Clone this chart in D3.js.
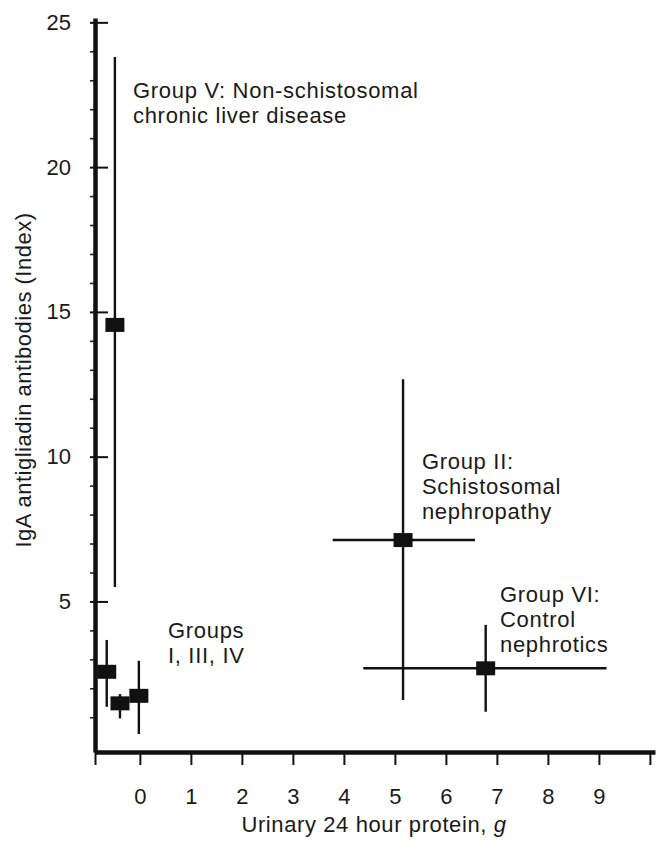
<!DOCTYPE html>
<html>
<head>
<meta charset="utf-8">
<script src="https://cdn.jsdelivr.net/npm/d3@7"></script>
<style>
  html, body { margin: 0; padding: 0; background: #fff; }
  svg text { font-family: "Liberation Sans", Arial, Helvetica, sans-serif; fill: #1a1a1a; }
</style>
</head>
<body>
<div id="chart"></div>
<script>
// Groups (bottom-left cluster labelled together as I, III, IV)
const groups = ['V', 'I', 'III', 'IV', 'II', 'VI'];
const protein = [-0.49, -0.65, -0.39, -0.02, 5.16, 6.78];
const proteinLow = [null, null, null, null, 3.78, 4.38];
const proteinHigh = [null, null, null, null, 6.57, 9.15];
const iga = [14.55, 2.57, 1.48, 1.74, 7.12, 2.69];
const igaLow = [5.5, 1.36, 0.96, 0.42, 1.60, 1.19];
const igaHigh = [23.8, 3.67, 1.80, 2.95, 12.67, 4.19];

// Axis ticks
const xTickLabels = [0, 1, 2, 3, 4, 5, 6, 7, 8, 9];
const xTickExtra = [-0.88, 10];
const yMajorTicks = [5, 10, 15, 20, 25];
const yMinorTicks = d3.range(1, 25).filter(v => v % 5 !== 0);

// Annotations (anchor in data units)
const labelText = [
    ['Group V: Non-schistosomal', 'chronic liver disease'],
    ['Groups', 'I, III, IV'],
    ['Group II:', 'Schistosomal', 'nephropathy'],
    ['Group VI:', 'Control', 'nephrotics']
];
const labelX = [-0.135, 0.55, 5.53, 7.06];
const labelY = [22.39, 3.74, 9.58, 4.99];

const width = 657, height = 841;
const fontSize = 22;

const svg = d3.select('#chart').append('svg')
    .attr('width', width)
    .attr('height', height);

const x = d3.scaleLinear().domain([-0.88, 10.1]).range([95, 655]);
const y = d3.scaleLinear().domain([-0.2, 25.15]).range([752, 18]);

// Y axis: minor ticks (outside)
svg.append('g')
    .attr('transform', `translate(${x.range()[0]},0)`)
    .call(d3.axisLeft(y).tickValues(yMinorTicks).tickSize(5).tickFormat(''))
    .call(g => g.select('.domain').remove())
    .call(g => g.selectAll('.tick line').attr('stroke', '#222').attr('stroke-width', 1.6));

// Y axis: major ticks crossing the axis
svg.append('g')
    .attr('transform', `translate(${x.range()[0] - 5},0)`)
    .call(d3.axisRight(y).tickValues(yMajorTicks).tickSize(18).tickFormat(''))
    .call(g => g.select('.domain').remove())
    .call(g => g.selectAll('.tick line').attr('stroke', '#111').attr('stroke-width', 2));

// Y axis line + labels
svg.append('g')
    .attr('transform', `translate(${x.range()[0]},0)`)
    .call(d3.axisLeft(y).tickValues(yMajorTicks).tickSize(0).tickSizeOuter(0).tickPadding(24))
    .call(g => g.select('.domain').attr('stroke', '#111').attr('stroke-width', 4.5))
    .call(g => g.selectAll('.tick text')
        .attr('font-size', fontSize)
        .attr('font-family', null)
        .attr('fill', '#1a1a1a'));

// X axis
const xAllTicks = [xTickExtra[0], ...xTickLabels, xTickExtra[1]];
svg.append('g')
    .attr('transform', `translate(0,${y.range()[0]})`)
    .call(d3.axisBottom(x)
        .tickValues(xAllTicks)
        .tickSize(13)
        .tickSizeOuter(0)
        .tickPadding(23)
        .tickFormat(d => xTickLabels.includes(d) ? d : ''))
    .call(g => g.select('.domain').attr('stroke', '#111').attr('stroke-width', 4.5))
    .call(g => g.selectAll('.tick line').attr('stroke', '#111').attr('stroke-width', 2))
    .call(g => g.selectAll('.tick text')
        .attr('font-size', fontSize)
        .attr('font-family', null)
        .attr('fill', '#1a1a1a'));

// Axis titles
svg.append('text')
    .attr('transform', `translate(31,380) rotate(-90)`)
    .attr('text-anchor', 'middle')
    .attr('font-size', fontSize)
    .attr('letter-spacing', 0.5)
    .text('IgA antigliadin antibodies (Index)');

const xTitle = svg.append('text')
    .attr('x', 374)
    .attr('y', 832)
    .attr('text-anchor', 'middle')
    .attr('font-size', fontSize)
    .attr('letter-spacing', 0.6);
xTitle.append('tspan').text('Urinary 24 hour protein, ');
xTitle.append('tspan').attr('font-style', 'italic').text('g');

// Error bars
const points = groups.map((g, i) => ({
    group: g,
    x: protein[i], xLo: proteinLow[i], xHi: proteinHigh[i],
    y: iga[i], yLo: igaLow[i], yHi: igaHigh[i]
}));

const bars = svg.append('g').attr('class', 'errorbars');

bars.selectAll('line.v')
    .data(points)
    .join('line')
    .attr('class', 'v')
    .attr('x1', d => x(d.x))
    .attr('x2', d => x(d.x))
    .attr('y1', d => y(d.yLo))
    .attr('y2', d => y(d.yHi))
    .attr('stroke', '#111')
    .attr('stroke-width', 2.4);

bars.selectAll('line.h')
    .data(points.filter(d => d.xLo != null))
    .join('line')
    .attr('class', 'h')
    .attr('x1', d => x(d.xLo))
    .attr('x2', d => x(d.xHi))
    .attr('y1', d => y(d.y))
    .attr('y2', d => y(d.y))
    .attr('stroke', '#111')
    .attr('stroke-width', 2.4);

// Markers
const mw = 19, mh = 14;
svg.append('g')
    .selectAll('rect')
    .data(points)
    .join('rect')
    .attr('x', d => x(d.x) - mw / 2)
    .attr('y', d => y(d.y) - mh / 2)
    .attr('width', mw)
    .attr('height', mh)
    .attr('fill', '#111');

// Group labels
const labels = svg.append('g').attr('class', 'labels');
labelText.forEach((lines, i) => {
    const t = labels.append('text')
        .attr('x', x(labelX[i]))
        .attr('y', y(labelY[i]))
        .attr('font-size', fontSize)
        .attr('letter-spacing', 0.7);
    lines.forEach((line, j) => {
        t.append('tspan')
            .attr('x', x(labelX[i]))
            .attr('dy', j === 0 ? 0 : 25)
            .text(line);
    });
});
</script>
</body>
</html>
